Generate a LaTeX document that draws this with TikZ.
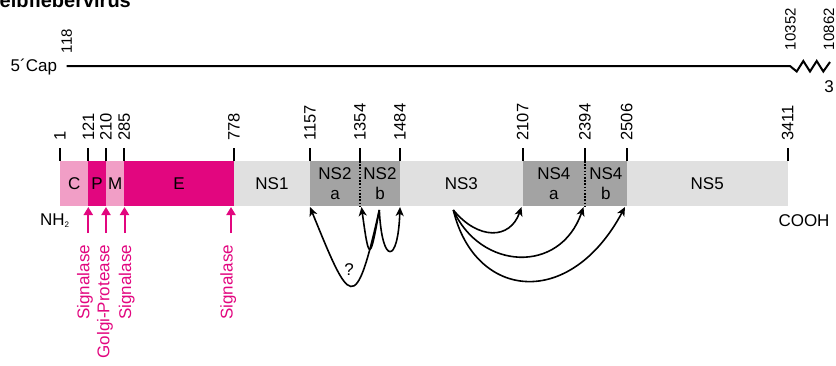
\documentclass[tikz,border=0pt]{standalone}
\usepackage{fontspec}
\setmainfont{Liberation Sans}
\usetikzlibrary{arrows.meta}
\definecolor{lpink}{HTML}{F19EC6}
\definecolor{mag}{HTML}{E2067F}
\definecolor{lgray}{HTML}{E0E0E0}
\definecolor{dgray}{HTML}{A3A3A3}

\begin{document}
\begin{tikzpicture}[x=1pt,y=-1pt,
  seg/.style={rectangle, draw=none, inner sep=0pt, outer sep=0pt,
    minimum height=45pt, anchor=north west, align=center,
    font=\fontsize{17}{20}\selectfont},
  lbl/.style={inner sep=0pt, outer sep=0pt, font=\fontsize{17}{20}\selectfont},
  num/.style={inner sep=0pt, outer sep=0pt, rotate=90, anchor=west,
    font=\fontsize{16.5}{18}\selectfont},
  gnum/.style={num, font=\fontsize{15}{17}\selectfont},
  tick/.style={line width=2pt},
  enz/.style={inner sep=0pt, outer sep=0pt, rotate=90, anchor=east,
    text=mag, font=\fontsize{17}{20}\selectfont},
  parrow/.style={draw=mag, line width=2pt, -{Triangle[length=8pt,width=9pt]}},
  conn/.style={line width=1.6pt, -{Stealth[length=9pt,width=8pt,inset=2.5pt]}},
  cut/.style={line width=1.5pt, dash pattern=on 1.6pt off 1.6pt},
]
\useasboundingbox (0,0) rectangle (836,365);

% title
\node[inner sep=0pt, anchor=base west, font=\fontsize{20}{22}\selectfont\bfseries]
  (title) at (-0.5,7.5) {elbfiebervirus};

% genome RNA line with the 3' zigzag
\coordinate (g0) at (66.7,66);
\coordinate (g1) at (790,66);
\node[lbl, anchor=east] (cap) at (57,67) {5´Cap};
\draw[line width=2pt, line join=miter] (g0) -- (g1)
  -- ++(6.7,5.5) -- ++(6.6,-10.5) -- ++(6.7,10.5) -- ++(6.7,-10.5)
  -- ++(6.6,10.5) -- ++(6.7,-9.5);
\node[gnum] (n118) at (66.7,53) {118};
\node[gnum] (n10352) at (790.5,50) {10352};
\node[gnum] (n10862) at (829,50) {10862};
\node[lbl] (three) at (829,87) {3};

% polyprotein segments
\node[seg, fill=lpink, minimum width=28.3pt] (C)    at (60,161)    {C};
\node[seg, fill=mag,   minimum width=17.7pt] (P)    at (88.3,161)  {P};
\node[seg, fill=lpink, minimum width=18.3pt] (M)    at (106,161)   {M};
\node[seg, fill=mag,   minimum width=109.7pt] (E)   at (124.3,161) {E};
\node[seg, fill=lgray, minimum width=76pt]   (NS1)  at (234,161)   {NS1};
\node[seg, fill=dgray, minimum width=50pt]   (NS2a) at (310,161)   {NS2\\a};
\node[seg, fill=dgray, minimum width=40pt]   (NS2b) at (360,161)   {NS2\\b};
\node[seg, fill=lgray, minimum width=122.7pt] (NS3) at (400,161)   {NS3};
\node[seg, fill=dgray, minimum width=62.3pt] (NS4a) at (522.7,161) {NS4\\a};
\node[seg, fill=dgray, minimum width=41.7pt] (NS4b) at (585,161)   {NS4\\b};
\node[seg, fill=lgray, minimum width=161pt]  (NS5)  at (626.7,161) {NS5};

% internal cleavage sites inside NS2 and NS4
\draw[cut] (NS2a.north east) -- (NS2a.south east);
\draw[cut] (NS4a.north east) -- (NS4a.south east);

% position ticks and numbers
\foreach \x/\t in {60/1, 88.3/121, 106/210, 124.3/285, 234/778, 310/1157,
                   360/1354, 400/1484, 522.7/2107, 585/2394, 626.7/2506,
                   787.7/3411} {
  \draw[tick] (\x,148) -- (\x,161);
  \node[num] (n\t) at (\x,140.5) {\t};
}

% termini
\node[lbl, anchor=west] (nh) at (40,220.5)
  {NH\raisebox{-2pt}{\fontsize{8}{8}\selectfont 2}};
\node[lbl] (cooh) at (804,221) {COOH};

% host protease cleavage sites
\foreach \n/\x in {a/88.3, b/106, c/124.5, d/231} {
  \coordinate (pt\n) at (\x,233);
  \coordinate (ph\n) at (\x,207);
  \draw[parrow] (pt\n) -- (ph\n);
}
\node[enz] (sig1) at (85,245)    {Signalase};
\node[enz] (golgi) at (105,245)  {Golgi-Protease};
\node[enz] (sig2) at (126.7,245) {Signalase};
\node[enz] (sig3) at (228.3,245) {Signalase};

% viral protease NS2B
\coordinate (s2) at (379.3,210);
\coordinate (t1157) at (310,207);
\coordinate (t1354) at (361.5,207);
\coordinate (t1484) at (400,207);
\draw[conn] (s2) .. controls (355,318) and (350,305) .. (t1157);
\draw[conn] (s2) .. controls (370,262) and (369,262) .. (t1354);
\draw[conn] (s2) .. controls (382,265) and (398,265) .. (t1484);
\node[lbl] (q) at (349,270) {?};

% viral protease NS3
\coordinate (s3) at (453.3,210);
\coordinate (t2107) at (521.5,207);
\coordinate (t2394) at (583.5,207);
\coordinate (t2506) at (625,207);
\draw[conn] (s3) .. controls (478,240) and (510,240) .. (t2107);
\draw[conn] (s3) .. controls (480,270) and (560,275) .. (t2394);
\draw[conn] (s3) .. controls (475,300) and (570,310) .. (t2506);
\end{tikzpicture}
\end{document}
